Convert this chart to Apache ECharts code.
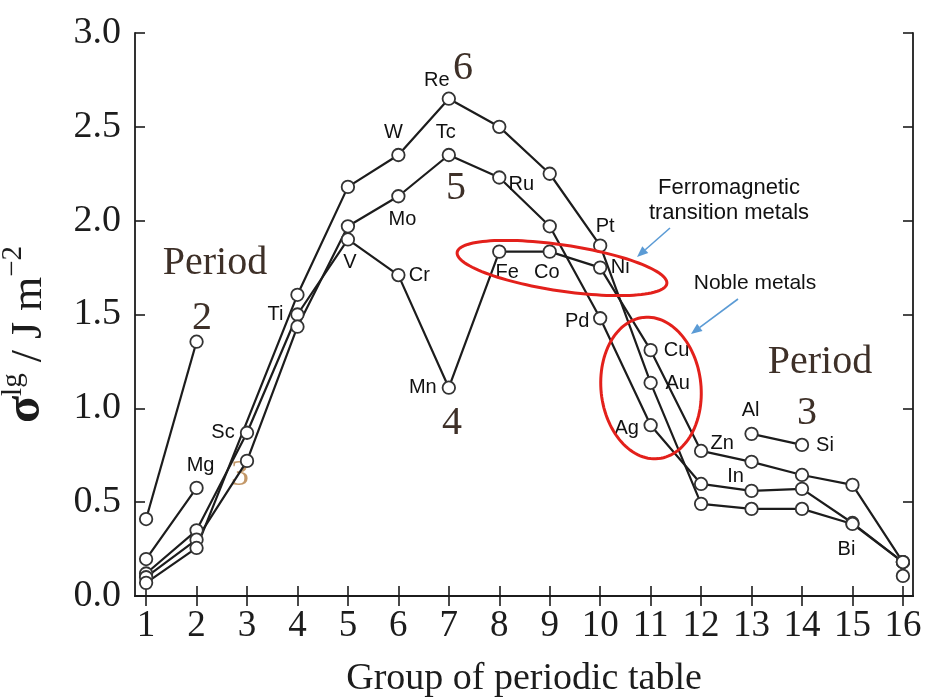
<!DOCTYPE html>
<html>
<head>
<meta charset="utf-8">
<script src="https://cdn.jsdelivr.net/npm/echarts@6/dist/echarts.min.js"></script>
<style>
  html, body { margin: 0; padding: 0; background: #fff; }
  #chart { width: 925px; height: 697px; }
</style>
</head>
<body>
<div id="chart"></div>
<script>
// Group numbers of the periodic table (x axis)
const groups = [1, 2, 3, 4, 5, 6, 7, 8, 9, 10, 11, 12, 13, 14, 15, 16];

// Surface energy σ^lg (J m^-2) per group, one array per period; null = no element plotted
const period2 = [0.41, 1.355, null, null, null, null, null, null, null, null, null, null, null, null, null, null];
const period3 = [0.197, 0.576, null, null, null, null, null, null, null, null, null, null, 0.864, 0.805, null, 0.107];
const period4 = [0.12, 0.35, 0.87, 1.50, 1.90, 1.71, 1.11, 1.835, 1.835, 1.75, 1.31, 0.773, 0.715, 0.645, 0.592, 0.181];
const period5 = [0.10, 0.30, 0.72, 1.435, 1.97, 2.13, 2.35, 2.23, 1.97, 1.48, 0.91, 0.597, 0.56, 0.571, 0.389, 0.181];
const period6 = [0.07, 0.256, null, 1.605, 2.18, 2.35, 2.65, 2.50, 2.25, 1.867, 1.136, 0.491, 0.464, 0.464, 0.384, 0.181];

// Element symbols written next to their points: [period, group, symbol]
const elementLabels = [
  ['P3', 2, 'Mg'], ['P3', 13, 'Al'], ['P3', 14, 'Si'],
  ['P4', 3, 'Sc'], ['P4', 4, 'Ti'], ['P4', 5, 'V'], ['P4', 6, 'Cr'], ['P4', 7, 'Mn'],
  ['P4', 8, 'Fe'], ['P4', 9, 'Co'], ['P4', 10, 'Ni'], ['P4', 11, 'Cu'], ['P4', 12, 'Zn'],
  ['P5', 6, 'Mo'], ['P5', 7, 'Tc'], ['P5', 8, 'Ru'], ['P5', 10, 'Pd'], ['P5', 11, 'Ag'], ['P5', 13, 'In'],
  ['P6', 6, 'W'], ['P6', 7, 'Re'], ['P6', 10, 'Pt'], ['P6', 11, 'Au'], ['P6', 15, 'Bi']
];

// Where each symbol sits relative to its marker (pixels)
const labelOffsets = {
  Mg: [4, -22], Sc: [-24, 0], Ti: [-22, 0], V: [2, 23], Cr: [21, 0], Mn: [-26, 0],
  Fe: [8, 21], Co: [-3, 21], Ni: [20, 0], Cu: [26, 0], Zn: [21, -7],
  Mo: [4, 23], Tc: [-3, -22], Ru: [22, 7], Pd: [-23, 3], Ag: [-24, 3], In: [-16, -14],
  W: [-5, -22], Re: [-12, -18], Pt: [5, -19], Au: [27, 1], Bi: [-6, 26],
  Al: [-1, -23], Si: [23, 1]
};

const SERIF = '"Liberation Serif", "DejaVu Serif", "Times New Roman", serif';
const SANS = '"Liberation Sans", Arial, Helvetica, sans-serif';
const INK = '#1c1c1c';

function buildData(key, values) {
  return groups.map((g, i) => {
    const v = values[i];
    if (v == null) return [g, '-'];
    const hit = elementLabels.find(e => e[0] === key && e[1] === g);
    if (!hit) return [g, v];
    return {
      value: [g, v],
      label: {
        show: true,
        formatter: hit[2],
        position: 'inside',
        offset: labelOffsets[hit[2]],
        fontFamily: SANS,
        fontSize: 20,
        color: '#111'
      }
    };
  });
}

function lineSeries(name, key, values, connect) {
  return {
    name: name,
    type: 'line',
    data: buildData(key, values),
    connectNulls: connect,
    symbol: 'circle',
    symbolSize: 12.5,
    lineStyle: { color: INK, width: 2.2 },
    itemStyle: { color: '#ffffff', borderColor: '#333', borderWidth: 1.8 },
    emphasis: { disabled: true },
    animation: false,
    z: 3
  };
}

// Ellipse outline as a polygon (cx, cy, rx, ry, rotation in degrees)
function ellipsePoints(cx, cy, rx, ry, deg) {
  const pts = [];
  const a = deg * Math.PI / 180;
  for (let k = 0; k < 120; k++) {
    const t = k / 120 * Math.PI * 2;
    const x = rx * Math.cos(t), y = ry * Math.sin(t);
    pts.push([cx + x * Math.cos(a) - y * Math.sin(a), cy + x * Math.sin(a) + y * Math.cos(a)]);
  }
  return pts;
}

function arrow(x1, y1, x2, y2, color) {
  const ang = Math.atan2(y2 - y1, x2 - x1);
  const L = 11, W = 4.5;
  const bx = x2 - L * Math.cos(ang), by = y2 - L * Math.sin(ang);
  return [
    { type: 'line', shape: { x1: x1, y1: y1, x2: bx, y2: by }, style: { stroke: color, lineWidth: 1.6 }, z: 10 },
    { type: 'polygon', shape: { points: [[x2, y2], [bx - W * Math.sin(ang), by + W * Math.cos(ang)], [bx + W * Math.sin(ang), by - W * Math.cos(ang)]] }, style: { fill: color }, z: 10 }
  ];
}

function serifText(x, y, text, size, color, opacity) {
  return {
    type: 'text', x: x, y: y, z: 1,
    style: { text: text, font: size + 'px ' + SERIF, fill: color, align: 'center', verticalAlign: 'middle', opacity: opacity == null ? 1 : opacity }
  };
}

function sansText(x, y, text, size) {
  return {
    type: 'text', x: x, y: y, z: 10,
    style: { text: text, font: size + 'px ' + SANS, fill: '#111', align: 'center', verticalAlign: 'middle' }
  };
}

const chart = echarts.init(document.getElementById('chart'), null, { renderer: 'canvas' });

const axisLineStyle = { color: INK, width: 1.8 };
const tickStyle = { inside: true, length: 10, lineStyle: { color: INK, width: 1.6 } };

const PERIOD_COLOR = '#3e3028';

const option = {
  animation: false,
  backgroundColor: '#ffffff',
  grid: { left: 135, right: 12, top: 33, bottom: 101, containLabel: false, outerBoundsMode: 'none' },
  xAxis: [
    {
      type: 'value', position: 'bottom', min: 0.78, max: 16.2,
      name: 'Group of periodic table', nameLocation: 'middle', nameGap: 64,
      nameTextStyle: { fontFamily: SERIF, fontSize: 38, color: INK },
      axisLine: { show: true, lineStyle: axisLineStyle },
      axisTick: Object.assign({ customValues: groups }, tickStyle),
      axisLabel: { customValues: groups, fontFamily: SERIF, fontSize: 37, color: INK, margin: 12 },
      splitLine: { show: false }
    },
    {
      type: 'value', position: 'top', min: 0.78, max: 16.2,
      axisLine: { show: true, lineStyle: axisLineStyle },
      axisTick: Object.assign({ customValues: groups }, tickStyle),
      axisLabel: { show: false },
      splitLine: { show: false }
    }
  ],
  yAxis: [
    {
      type: 'value', position: 'left', min: 0, max: 3, interval: 0.5,
      name: '{s|σ}{sup|lg}{n| / J m}{sup|−2}',
      nameLocation: 'middle', nameRotate: 90, nameGap: 84,
      nameTextStyle: {
        padding: [0, 40, 0, 0],
        rich: {
          s: { fontFamily: SERIF, fontSize: 50, fontWeight: 'bold', color: INK, lineHeight: 52, verticalAlign: 'bottom' },
          sup: { fontFamily: SERIF, fontSize: 29, color: INK, lineHeight: 52, verticalAlign: 'top' },
          n: { fontFamily: SERIF, fontSize: 44, color: INK, lineHeight: 52, verticalAlign: 'bottom' }
        }
      },
      axisLine: { show: true, lineStyle: axisLineStyle },
      axisTick: tickStyle,
      axisLabel: {
        fontFamily: SERIF, fontSize: 38, color: INK, margin: 14,
        formatter: v => v.toFixed(1)
      },
      splitLine: { show: false }
    },
    {
      type: 'value', position: 'right', min: 0, max: 3, interval: 0.5,
      axisLine: { show: true, lineStyle: axisLineStyle },
      axisTick: tickStyle,
      axisLabel: { show: false },
      splitLine: { show: false }
    }
  ],
  series: [
    lineSeries('Period 2', 'P2', period2, false),
    lineSeries('Period 3', 'P3', period3, false),
    lineSeries('Period 4', 'P4', period4, false),
    lineSeries('Period 5', 'P5', period5, false),
    lineSeries('Period 6', 'P6', period6, true)
  ],
  graphic: [
    // period numbers
    serifText(215, 263, 'Period', 40, PERIOD_COLOR),
    serifText(202, 318, '2', 40, PERIOD_COLOR),
    serifText(240, 476, '3', 36, '#b8864e', 0.85),
    serifText(463, 68, '6', 40, PERIOD_COLOR),
    serifText(456, 188, '5', 40, PERIOD_COLOR),
    serifText(452, 423, '4', 40, PERIOD_COLOR),
    serifText(820, 362, 'Period', 40, PERIOD_COLOR),
    serifText(807, 413, '3', 40, PERIOD_COLOR),
    // highlighted groups
    { type: 'polygon', z: 9, shape: { points: ellipsePoints(562, 268, 106, 23, 8.5) }, style: { fill: 'none', stroke: '#e3201b', lineWidth: 3 } },
    { type: 'polygon', z: 9, shape: { points: ellipsePoints(651, 388, 50, 71, -6) }, style: { fill: 'none', stroke: '#e3201b', lineWidth: 3 } },
    sansText(729, 188, 'Ferromagnetic', 22),
    sansText(729, 213, 'transition metals', 22),
    sansText(755, 283, 'Noble metals', 21),
    ...arrow(670, 228, 637, 257, '#5b9bd5'),
    ...arrow(738, 299, 691, 334, '#5b9bd5')
  ]
};

chart.setOption(option);
</script>
</body>
</html>
